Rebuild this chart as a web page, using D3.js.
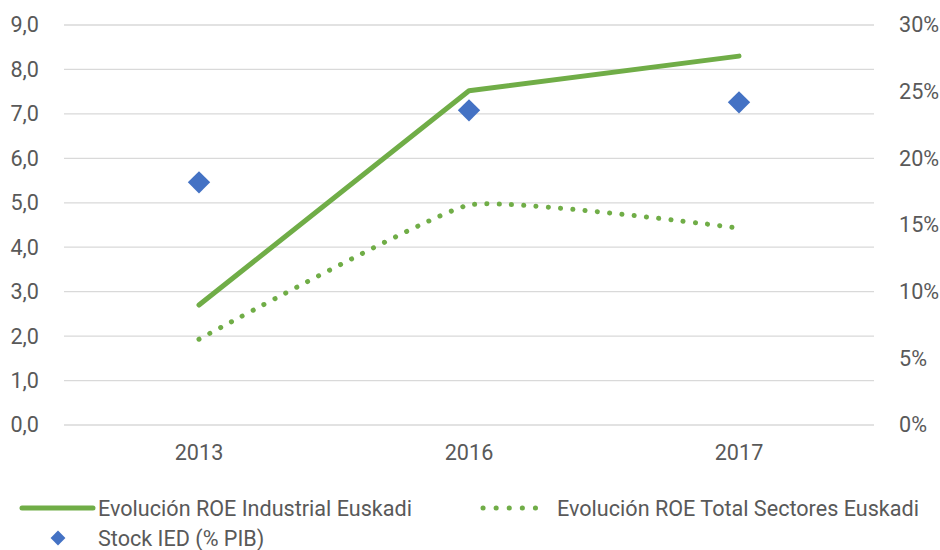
<!DOCTYPE html>
<html>
<head>
<meta charset="utf-8">
<script src="https://cdn.jsdelivr.net/npm/d3@7"></script>
<style>
  body { margin: 0; background: #fff; }
  text { font-family: Roboto, "Open Sans", sans-serif; fill: #595959; }
</style>
</head>
<body>
<script>
// data
const years = ["2013", "2016", "2017"];
const roeIndustrial = [2.7, 7.52, 8.3];
const roeTotal = [1.93, 4.95, 4.43];
const stockIed = [0.182, 0.236, 0.242];
const leftTicks = [0, 1, 2, 3, 4, 5, 6, 7, 8, 9];
const rightTicks = [0, 0.05, 0.1, 0.15, 0.2, 0.25, 0.3];

var width = 940, height = 550;
var margin = { top: 25, right: 66, bottom: 125, left: 64 };
var fontSize = "21.6px";

var svg = d3.select("body").append("svg")
  .attr("width", width)
  .attr("height", height);

var x = d3.scaleBand().domain(years).range([margin.left, width - margin.right]);
var yLeft = d3.scaleLinear().domain([0, 9]).range([height - margin.bottom, margin.top]);
var yRight = d3.scaleLinear().domain([0, 0.3]).range([height - margin.bottom, margin.top]);

// gridlines
svg.append("g")
  .selectAll("line")
  .data(leftTicks)
  .enter()
  .append("line")
  .attr("x1", margin.left)
  .attr("x2", width - margin.right)
  .attr("y1", d => yLeft(d))
  .attr("y2", d => yLeft(d))
  .attr("stroke", "#d9d9d9")
  .attr("stroke-width", 1.3);

// left axis
var leftAxis = svg.append("g")
  .attr("transform", "translate(" + (margin.left - 22) + ",0)")
  .call(d3.axisLeft(yLeft).tickValues(leftTicks).tickSize(0)
    .tickFormat(d => d3.format(".1f")(d).replace(".", ",")));
leftAxis.select(".domain").remove();
leftAxis.selectAll("text").style("font-size", fontSize).attr("fill", "#595959");

// right axis
var rightAxis = svg.append("g")
  .attr("transform", "translate(" + (width - margin.right + 22) + ",0)")
  .call(d3.axisRight(yRight).tickValues(rightTicks).tickSize(0).tickFormat(d3.format(".0%")));
rightAxis.select(".domain").remove();
rightAxis.selectAll("text").style("font-size", fontSize).attr("fill", "#595959");

// x axis
var xAxis = svg.append("g")
  .attr("transform", "translate(0," + (height - margin.bottom + 17) + ")")
  .call(d3.axisBottom(x).tickSize(0));
xAxis.select(".domain").remove();
xAxis.selectAll("text").style("font-size", fontSize).attr("fill", "#595959");

var cx = d => x(d) + x.bandwidth() / 2;

// ROE industrial
var line = d3.line()
  .x((d, i) => cx(years[i]))
  .y(d => yLeft(d));

svg.append("path")
  .datum(roeIndustrial)
  .attr("fill", "none")
  .attr("stroke", "#70ad47")
  .attr("stroke-width", 5)
  .attr("stroke-linecap", "round")
  .attr("stroke-linejoin", "round")
  .attr("d", line);

// ROE total (smoothed, dotted)
var smooth = d3.line()
  .x((d, i) => cx(years[i]))
  .y(d => yLeft(d))
  .curve(d3.curveCardinal.tension(0.6));

svg.append("path")
  .datum(roeTotal)
  .attr("fill", "none")
  .attr("stroke", "#70ad47")
  .attr("stroke-width", 5)
  .attr("stroke-linecap", "round")
  .attr("stroke-dasharray", "0.1 12.2")
  .attr("d", smooth);

// Stock IED diamonds
var diamond = d3.symbol().type(d3.symbolSquare).size(250);
svg.append("g")
  .selectAll("path")
  .data(stockIed)
  .enter()
  .append("path")
  .attr("d", diamond)
  .attr("fill", "#4472c4")
  .attr("transform", (d, i) => "translate(" + cx(years[i]) + "," + yRight(d) + ") rotate(45)");

// legend
var legend = svg.append("g");
var ly1 = 508, ly2 = 538;

legend.append("line")
  .attr("x1", 22).attr("x2", 93).attr("y1", ly1).attr("y2", ly1)
  .attr("stroke", "#70ad47").attr("stroke-width", 5).attr("stroke-linecap", "round");
legend.append("text")
  .attr("x", 98).attr("y", ly1).attr("dy", "0.35em")
  .style("font-size", fontSize)
  .text("Evolución ROE Industrial Euskadi");

legend.append("line")
  .attr("x1", 483).attr("x2", 548).attr("y1", ly1).attr("y2", ly1)
  .attr("stroke", "#70ad47").attr("stroke-width", 5).attr("stroke-linecap", "round")
  .attr("stroke-dasharray", "0.1 13");
legend.append("text")
  .attr("x", 557).attr("y", ly1).attr("dy", "0.35em")
  .style("font-size", fontSize)
  .text("Evolución ROE Total Sectores Euskadi");

legend.append("path")
  .attr("d", d3.symbol().type(d3.symbolSquare).size(110))
  .attr("fill", "#4472c4")
  .attr("transform", "translate(58," + ly2 + ") rotate(45)");
legend.append("text")
  .attr("x", 98).attr("y", ly2).attr("dy", "0.35em")
  .style("font-size", fontSize)
  .text("Stock IED (% PIB)");
</script>
</body>
</html>
